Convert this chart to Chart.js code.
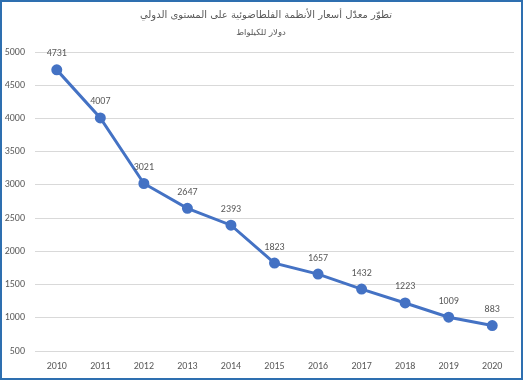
<!DOCTYPE html>
<html lang="ar">
<head>
<meta charset="UTF-8" />
<title>تطوّر معدّل أسعار الأنظمة الفلطاضوئية</title>
<script src="https://cdn.jsdelivr.net/npm/chart.js@4.4.0/dist/chart.umd.min.js"></script>
<style>
    body { margin: 0; background: #fff; }
    .frame {
        width: 523px;
        height: 380px;
        box-sizing: border-box;
        border: 2px solid #2e6fb0;
        position: relative;
    }
</style>
</head>
<body>
<div class="frame"><canvas id="c"></canvas></div>
<script>
    // data
    const years = ["2010", "2011", "2012", "2013", "2014", "2015", "2016", "2017", "2018", "2019", "2020"];
    const prices = [4731, 4007, 3021, 2647, 2393, 1823, 1657, 1432, 1223, 1009, 883];
    const yTicks = [500, 1000, 1500, 2000, 2500, 3000, 3500, 4000, 4500, 5000];
    const titleText = 'تطوّر معدّل أسعار الأنظمة الفلطاضوئية على المستوى الدولي';
    const subtitleText = 'دولار للكيلواط';

    const grey = '#595959';
    const font = 'Calibri, Carlito, "Liberation Sans", "DejaVu Sans", sans-serif';

    // title and subtitle, sitting a bit right of centre like the original
    const titles = {
        id: 'titles',
        afterDraw(chart) {
            const ctx = chart.ctx;
            ctx.save();
            ctx.fillStyle = grey;
            ctx.textAlign = 'center';
            ctx.textBaseline = 'middle';
            ctx.font = '10px "DejaVu Sans", sans-serif';
            ctx.fillText(titleText, 264, 13);
            ctx.font = '8.5px "DejaVu Sans", sans-serif';
            ctx.fillText(subtitleText, 259, 31);
            ctx.restore();
        }
    };

    // value labels above each point
    const pointLabels = {
        id: 'pointLabels',
        afterDatasetsDraw(chart) {
            const ctx = chart.ctx;
            const meta = chart.getDatasetMeta(0);
            ctx.save();
            ctx.font = '10px ' + font;
            ctx.fillStyle = grey;
            ctx.textAlign = 'center';
            ctx.textBaseline = 'middle';
            meta.data.forEach((p, i) => {
                ctx.fillText(prices[i], p.x, p.y - 16);
            });
            ctx.restore();
        }
    };

    new Chart(document.getElementById('c'), {
        type: 'line',
        data: {
            labels: years,
            datasets: [{
                data: prices,
                borderColor: '#4472c4',
                backgroundColor: '#4472c4',
                borderWidth: 3,
                pointRadius: 4,
                pointHoverRadius: 4,
                tension: 0
            }]
        },
        options: {
            responsive: true,
            maintainAspectRatio: false,
            animation: false,
            layout: { padding: { left: 0, right: 7, top: 50, bottom: 0 } },
            plugins: {
                legend: { display: false },
                tooltip: { enabled: false }
            },
            scales: {
                x: {
                    offset: true,
                    grid: { display: false, drawTicks: false },
                    border: { display: false },
                    afterFit: s => { s.height = 27; },
                    ticks: { color: grey, font: { family: font, size: 10 }, maxRotation: 0, padding: 9 }
                },
                y: {
                    min: 500,
                    max: 5000,
                    afterBuildTicks: s => { s.ticks = yTicks.map(v => ({ value: v })); },
                    afterFit: s => { s.width = 33; },
                    grid: { color: '#d9d9d9', drawTicks: false },
                    border: { display: false },
                    ticks: { color: grey, font: { family: font, size: 10 }, padding: 10, callback: v => String(v) }
                }
            }
        },
        plugins: [pointLabels, titles]
    });
</script>
</body>
</html>
